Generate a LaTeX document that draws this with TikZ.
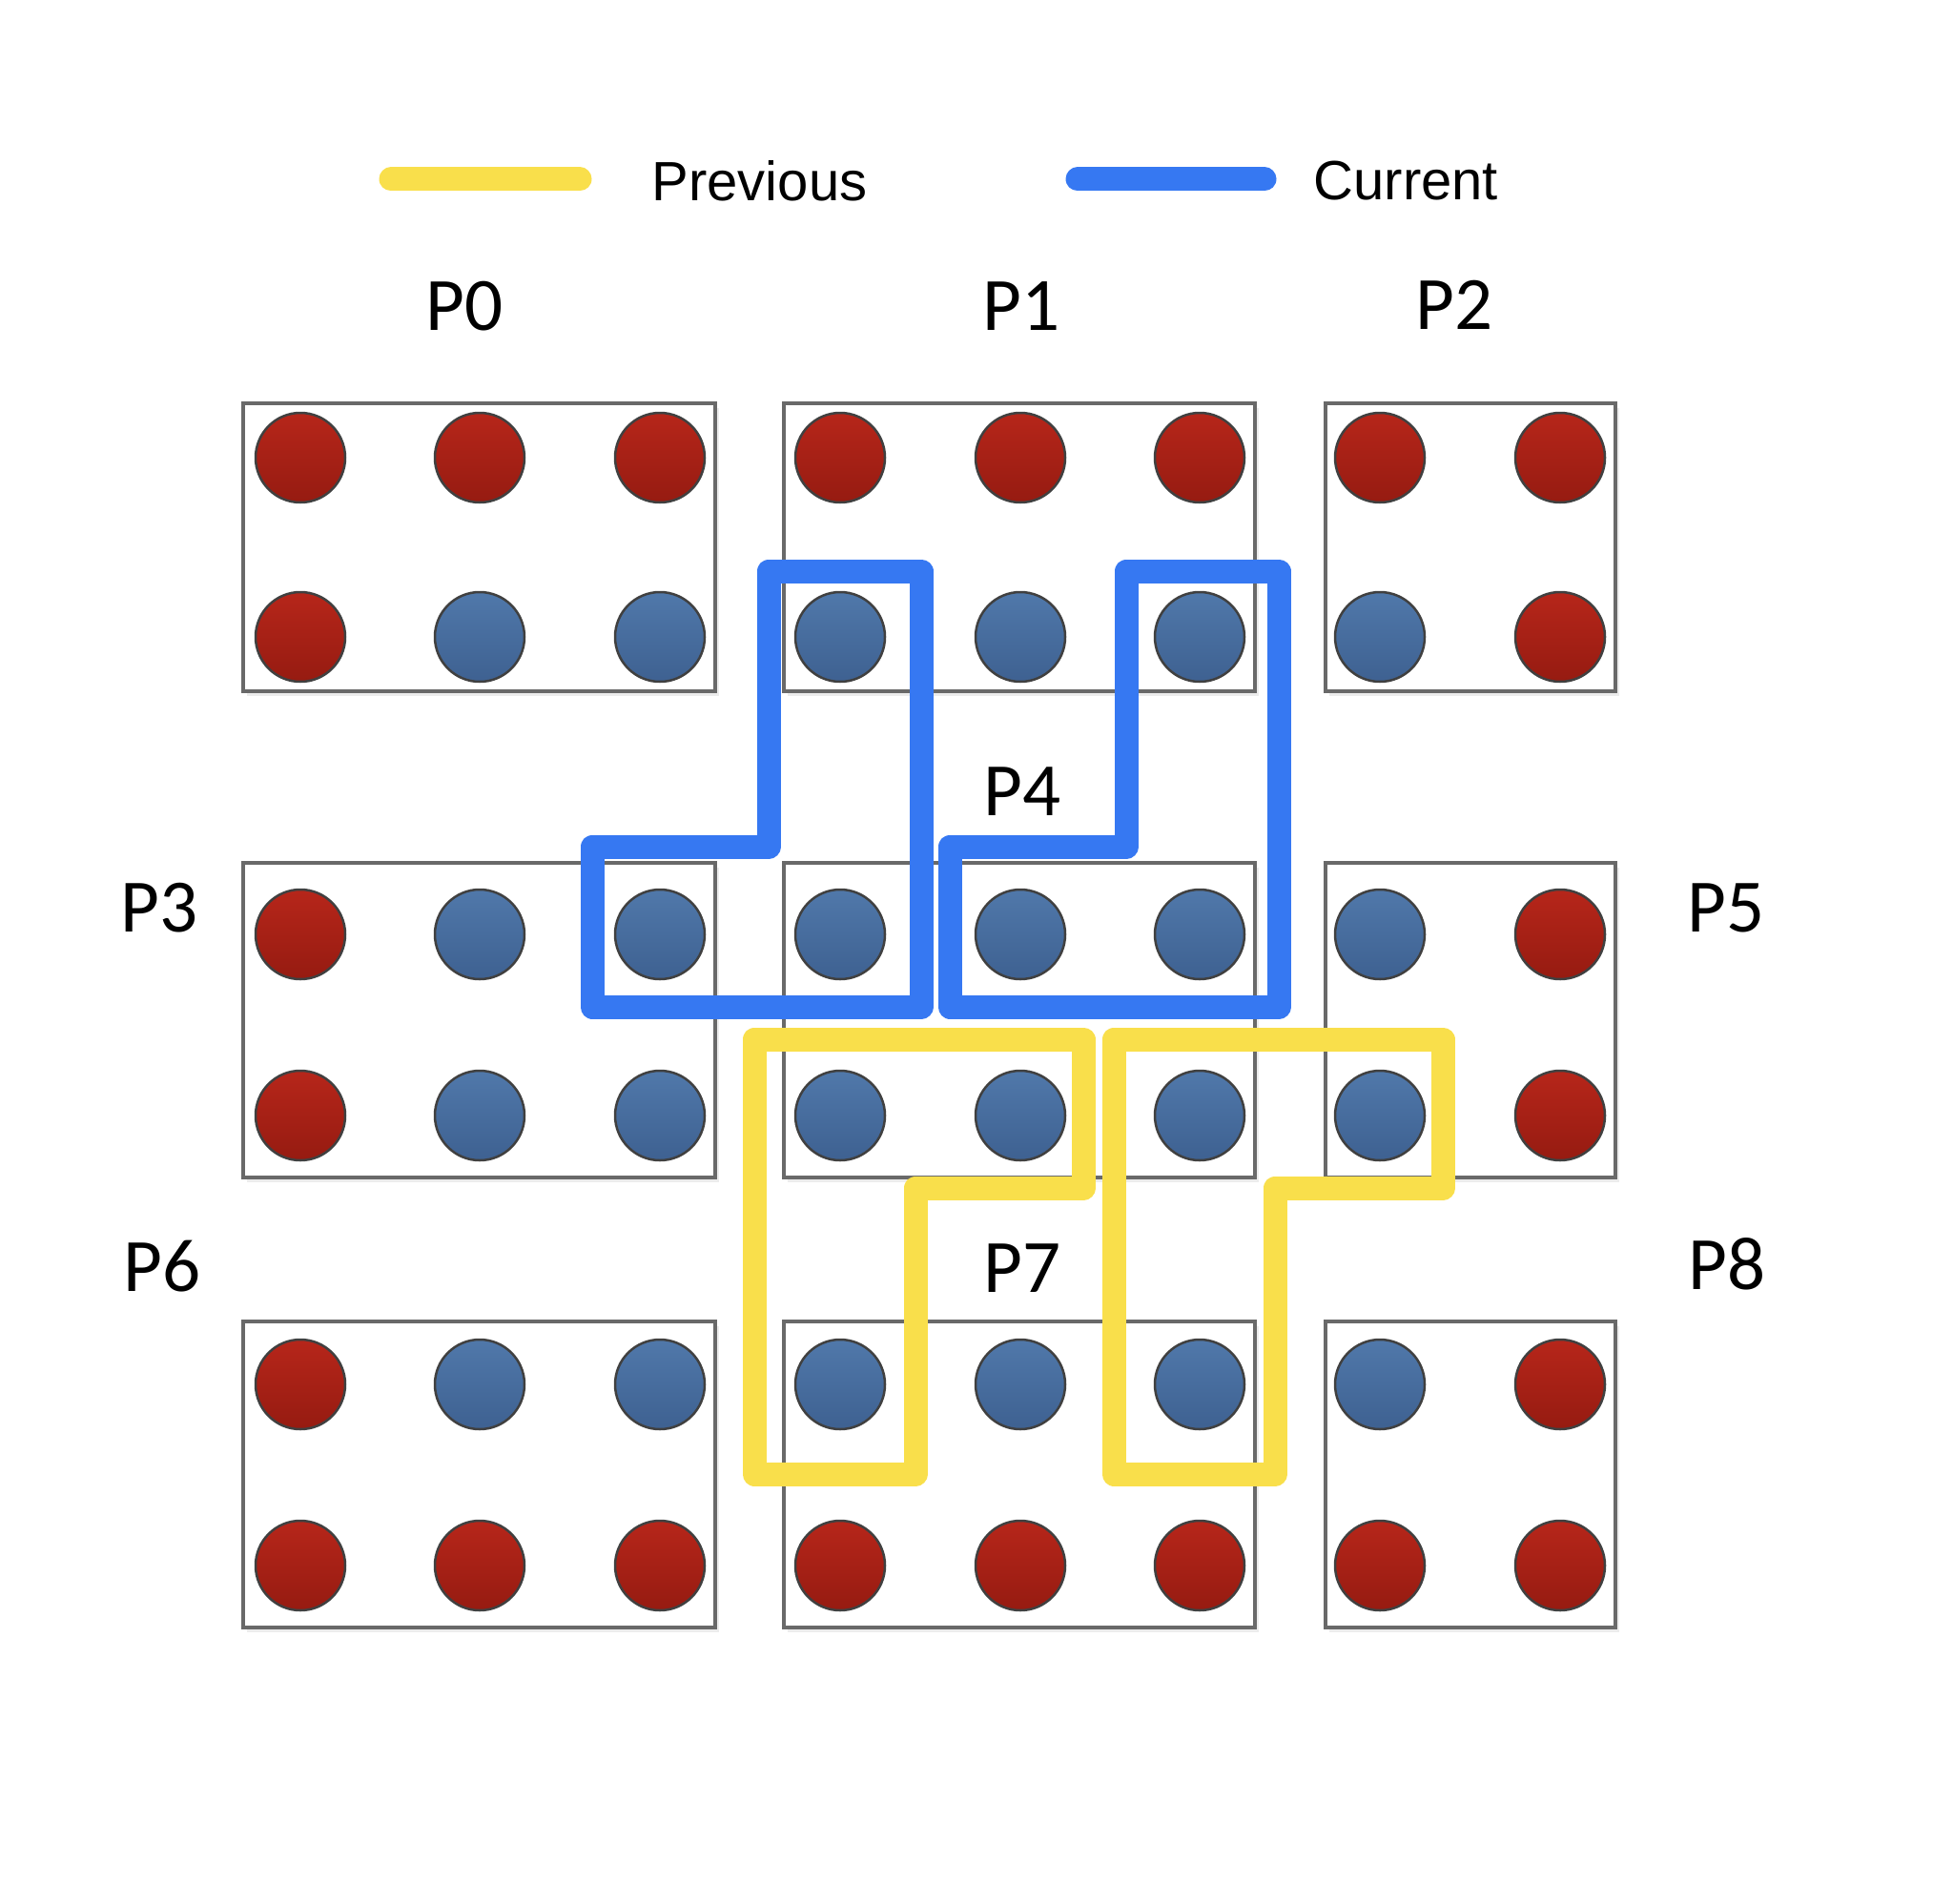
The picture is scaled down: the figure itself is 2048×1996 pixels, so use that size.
\documentclass[tikz,border=0pt]{standalone}
\usepackage{fontspec}
\setmainfont{Carlito}
\newfontfamily\legendfont{Liberation Sans}
\usetikzlibrary{shadows}
\definecolor{dotredtop}{RGB}{182,38,26}
\definecolor{dotredbot}{RGB}{150,27,17}
\definecolor{dotbluetop}{RGB}{80,120,170}
\definecolor{dotbluebot}{RGB}{62,97,145}
\definecolor{curblue}{RGB}{54,120,242}
\definecolor{prevyellow}{RGB}{249,223,75}
\definecolor{boxgray}{RGB}{105,105,105}

\begin{document}
\begin{tikzpicture}[x=0.1mm, y=-0.1mm,
				procbox/.style={draw=boxgray, line width=0.45mm, fill=white,
					drop shadow={shadow xshift=0.4mm, shadow yshift=-0.5mm, opacity=0.15}},
				reddot/.style={circle, minimum size=9.4mm, inner sep=0pt, draw=black!75,
					line width=0.25mm, top color=dotredtop, bottom color=dotredbot},
				bluedot/.style={reddot, top color=dotbluetop, bottom color=dotbluebot},
				halo/.style={line width=2.5mm, line join=round, line cap=round},
				plabel/.style={inner sep=0pt, font=\fontsize{22.5}{27}\selectfont},
				legtext/.style={inner sep=0pt, anchor=base west, font=\legendfont\fontsize{16.5}{20}\selectfont}]
				%Bildbereich
				\fill[white] (0,0) rectangle (2048,1996);
				\useasboundingbox (0,0) rectangle (2048,1996);
				% Legende
				\coordinate (prevA) at (410,188);
				\coordinate (prevB) at (608,188);
				\coordinate (curA) at (1130,188);
				\coordinate (curB) at (1326,188);
				\draw[halo, prevyellow] (prevA) -- (prevB);
				\draw[halo, curblue] (curA) -- (curB);
				\node[legtext] (prev) at (683,211) {Previous};
				\node[legtext] (cur) at (1377,210) {Current};
				% Prozessboxen
				\foreach \xa/\xb in {255/750, 822/1316, 1390/1694}
					\foreach \ya/\yb in {423/725, 905/1235, 1386/1707}
						\draw[procbox] (\xa,\ya) rectangle (\xb,\yb);
				% Punkte
				\foreach \cx [count=\i from 0] in {315,503,692,881,1070,1258,1447,1636}
					\foreach \cy [count=\j from 0] in {480,668,980,1170,1452,1642} {
						\pgfmathtruncatemacro\isblue{(\i>0)*(\i<7)*(\j>0)*(\j<5)}
						\ifnum\isblue=1 \def\dotstyle{bluedot}\else\def\dotstyle{reddot}\fi
						\node[\dotstyle] (d-\i-\j) at (\cx,\cy) {};
					}
				% Beschriftung
				\node[plabel] (p0) at (487,321) {P0};
				\node[plabel] (p1) at (1071,321) {P1};
				\node[plabel] (p2) at (1525,320) {P2};
				\node[plabel] (p3) at (167,952) {P3};
				\node[plabel] (p4) at (1072,830) {P4};
				\node[plabel] (p5) at (1810,952) {P5};
				\node[plabel] (p6) at (170,1328) {P6};
				\node[plabel] (p7) at (1072,1330) {P7};
				\node[plabel] (p8) at (1811,1326) {P8};
				% aktuelle Bereiche
				\foreach \dx in {0,375}
					\draw[halo, curblue, shift={(\dx,0)}] (806,599) -- (966,599) -- (966,1056)
						-- (621,1056) -- (621,888) -- (806,888) -- cycle;
				% vorherige Bereiche
				\foreach \dx in {0,377}
					\draw[halo, prevyellow, shift={(\dx,0)}] (791,1090) -- (1136,1090) -- (1136,1246)
						-- (960,1246) -- (960,1546) -- (791,1546) -- cycle;
			\end{tikzpicture}
\end{document}
